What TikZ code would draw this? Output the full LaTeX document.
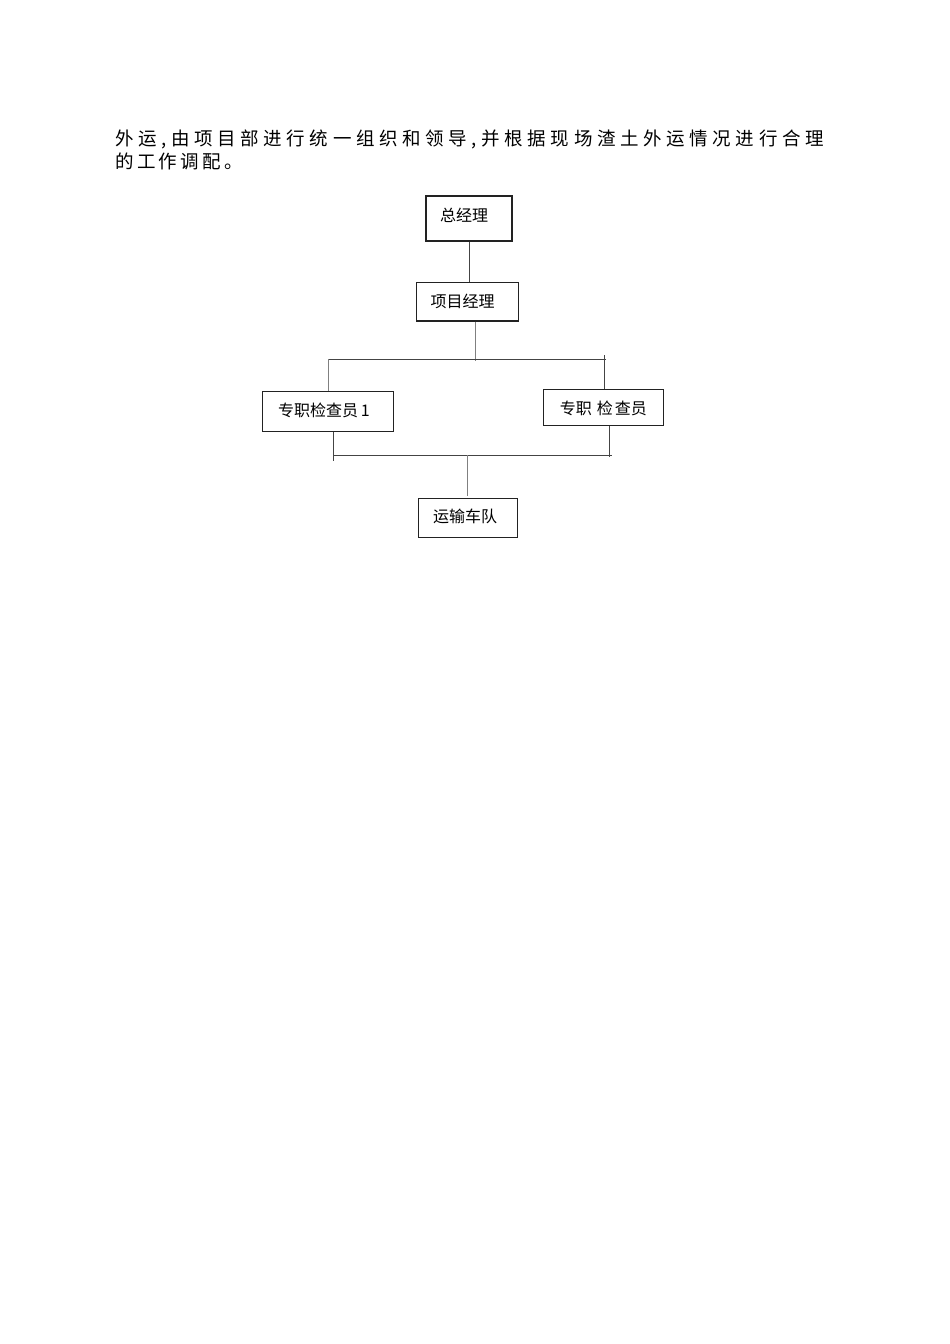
\documentclass[tikz,border=0pt]{standalone}
\usepackage{fontspec}
\newfontfamily\cjk{Noto Sans CJK SC}
\newfontfamily\cjkpa[LetterSpace=25]{Noto Sans CJK SC}
\newfontfamily\cjkpb[LetterSpace=18]{Noto Sans CJK SC}
\definecolor{boxline}{HTML}{222222}
\definecolor{connline}{HTML}{444444}
\definecolor{connlight}{HTML}{808080}
\begin{document}
\begin{tikzpicture}[x=1pt,y=-1pt,
  box/.style={draw=boxline,line width=1.1pt,rectangle,inner sep=0pt},
  boxtext/.style={font=\cjk\fontsize{16}{18}\selectfont,text=black,inner sep=0pt},
  conn/.style={draw=connline,line width=0.9pt},
  connl/.style={draw=connlight,line width=1pt},
  para/.style={anchor=base west,inner sep=0pt,text=black}]
\useasboundingbox[fill=white] (0,0) rectangle (950,1344);

% paragraph text
\node[para,font=\cjkpa\fontsize{18.5}{22}\selectfont] (p1) at (115,145) {外运,由项目部进行统一组织和领导,并根据现场渣土外运情况进行合理};
\node[para,font=\cjkpb\fontsize{18.5}{22}\selectfont] (p2) at (115,168) {的工作调配。};

% boxes
\node[box,minimum width=86pt,minimum height=45pt,
  label={[boxtext,xshift=-5pt,yshift=3.5pt]center:总经理}] (zjl) at (469,218.5) {};
\node[box,minimum width=102pt,minimum height=38.3pt,
  label={[boxtext,xshift=-4.8pt,yshift=0.8pt]center:项目经理}] (xmjl) at (467.3,301.8) {};
\node[box,minimum width=131.4pt,minimum height=40pt,
  label={[boxtext,xshift=-4pt,yshift=0.6pt]center:专职检查员\,1}] (zj1) at (328,411.3) {};
\node[box,minimum width=120pt,minimum height=36.4pt,
  label={[boxtext,xshift=0pt,yshift=-0.5pt]center:专职\hspace{5pt}检\hspace{2pt}查员}] (zj2) at (603.3,407.5) {};
\node[box,minimum width=98.6pt,minimum height=38.7pt,
  label={[boxtext,xshift=-3pt,yshift=1pt]center:运输车队}] (ysd) at (468,517.7) {};

% connector coordinates
\coordinate (b1c) at (475.3,361);
\coordinate (bus1R) at (606,359.3);
\coordinate (tickR) at (604.3,355);
\coordinate (bus2L) at (333.3,461);
\coordinate (bus2R) at (611.7,455.3);
\coordinate (zj2dn) at (609.7,456.7);
\coordinate (ysdTop) at (467,495.7);

% connectors
\draw[conn] (zjl.south) -- (zjl.south |- xmjl.north);
\draw[connl] (xmjl.south -| b1c) -- (b1c);
\draw[conn] (bus1R) -- (zj1.north |- bus1R);
\draw[connl] (zj1.north |- bus1R) -- (zj1.north);
\draw[conn] (tickR) -- (tickR |- zj2.north);
\draw[conn] (zj1.south -| bus2L) -- (bus2L);
\draw[conn] (bus2L |- bus2R) -- (bus2R);
\draw[conn] (zj2.south -| zj2dn) -- (zj2dn);
\draw[connl] (ysdTop |- bus2R) -- (ysdTop);
\end{tikzpicture}
\end{document}
